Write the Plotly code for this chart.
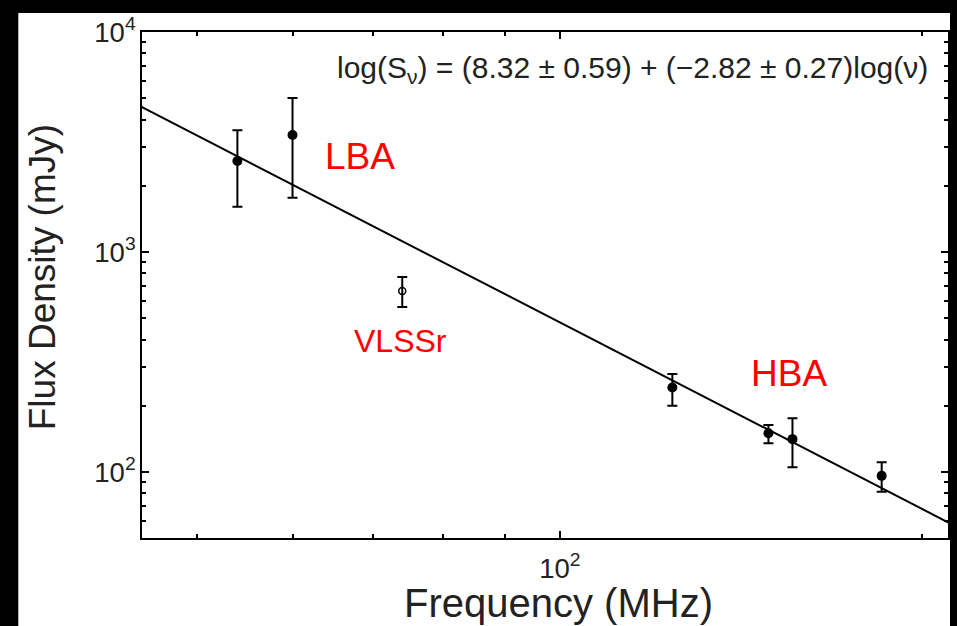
import math
import plotly.graph_objects as go

# --- data ---
freq = [54.0, 60.0, 124.0, 149.0, 156.0, 185.0]          # MHz (LBA + HBA, filled)
flux = [2590, 3400, 242, 150, 141, 96]                    # mJy
err_plus = [985, 1610, 37, 13.5, 34.5, 14.6]
err_minus = [985, 1635, 42, 15, 36, 14.6]

vlss_freq = [74.0]
vlss_flux = [665]
vlss_err_plus = [104]
vlss_err_minus = [103]

# fit: log(S) = a + b log(nu)
fit_a = 8.32
fit_b = -2.82
fit_x = [40.0, 230.0]

x_range = [45.0, 210.0]
y_range = [50.1, 10000.0]

fit_y = [10 ** (fit_a + fit_b * math.log10(v)) for v in fit_x]

FONT = "Liberation Sans, Arial, sans-serif"

fig = go.Figure()

fig.add_trace(go.Scatter(
    x=fit_x, y=fit_y, mode="lines",
    line=dict(color="black", width=2), showlegend=False, hoverinfo="skip"))

fig.add_trace(go.Scatter(
    x=freq, y=flux, mode="markers",
    marker=dict(color="black", size=10, symbol="circle"),
    error_y=dict(type="data", array=err_plus, arrayminus=err_minus,
                 color="black", thickness=2, width=5),
    showlegend=False))

fig.add_trace(go.Scatter(
    x=vlss_freq, y=vlss_flux, mode="markers",
    marker=dict(color="black", size=7, symbol="circle-open", line=dict(width=1.5, color="black")),
    error_y=dict(type="data", array=vlss_err_plus, arrayminus=vlss_err_minus,
                 color="black", thickness=2, width=5),
    showlegend=False))

axis_common = dict(
    type="log", showline=True, linecolor="black", linewidth=2, mirror="allticks",
    ticks="inside", ticklen=7, tickwidth=2, tickcolor="black",
    showgrid=False, zeroline=False, dtick=1, exponentformat="power",
    tickfont=dict(family=FONT, size=22, color="#222"),
    minor=dict(ticks="inside", ticklen=4, tickwidth=1.5, tickcolor="black", dtick="D1", showgrid=False),
)

fig.update_xaxes(range=[math.log10(x_range[0]), math.log10(x_range[1])],
                 ticklabelstandoff=6, **axis_common)
fig.update_yaxes(range=[math.log10(y_range[0]), math.log10(y_range[1])],
                 **axis_common)

annots = [
    dict(text="log(S<sub>ν</sub>) = (8.32 ± 0.59) + (−2.82 ± 0.27)log(ν)",
         x=0.978, y=0.925, xanchor="right", yanchor="middle",
         font=dict(family=FONT, size=30, color="#222")),
    dict(text="LBA", x=0.271, y=0.753, font=dict(family=FONT, size=37, color="red")),
    dict(text="VLSSr", x=0.3205, y=0.389, font=dict(family=FONT, size=32, color="red")),
    dict(text="HBA", x=0.803, y=0.326, font=dict(family=FONT, size=37, color="red")),
    # axis titles
    dict(text="Frequency (MHz)", x=(560 - 142) / 808, y=(538 - 603) / 506,
         font=dict(family=FONT, size=40, color="#222")),
    dict(text="Flux Density (mJy)", x=(42 - 142) / 808, y=(538 - 277) / 506,
         textangle=-90, font=dict(family=FONT, size=37, color="#222")),
]
for a in annots:
    a.update(xref="paper", yref="paper", showarrow=False)
    a.setdefault("xanchor", "center")
    a.setdefault("yanchor", "middle")

fig.update_layout(
    width=957, height=626,
    margin=dict(l=142, r=7, t=32, b=88),
    paper_bgcolor="black", plot_bgcolor="white",
    annotations=annots,
    shapes=[dict(type="rect", xref="paper", yref="paper",
                 x0=(18 - 142) / 808, x1=(952 - 142) / 808,
                 y0=(538 - 640) / 506, y1=(538 - 13) / 506,
                 fillcolor="white", line=dict(width=0), layer="below")],
)

fig.write_html("out.html")
